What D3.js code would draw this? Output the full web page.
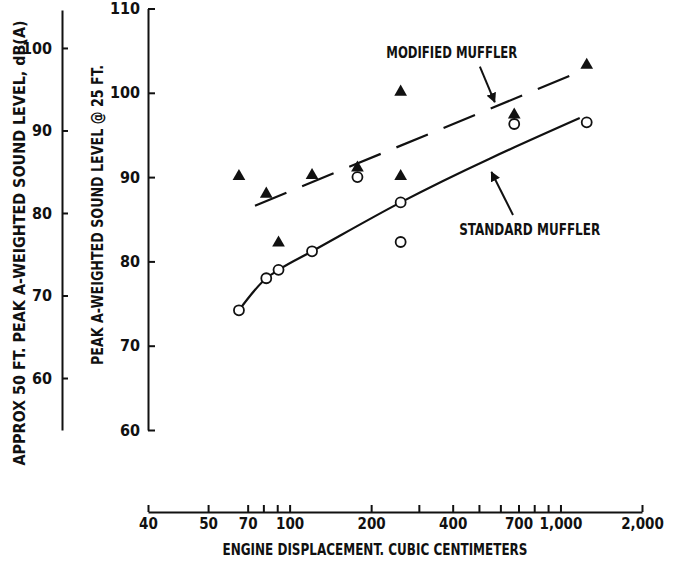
<!DOCTYPE html>
<html>
<head>
<meta charset="utf-8">
<script src="https://cdn.jsdelivr.net/npm/d3@7"></script>
<style>
  body { margin: 0; background: #fff; }
  text { font-family: "Liberation Sans Narrow", "DejaVu Sans Condensed", sans-serif; font-weight: bold; fill: #111; }
</style>
</head>
<body>
<div id="chart"></div>
<script>
// engine displacement (cc) of each tested machine
var displacement = [65, 82, 91, 121, 178, 257, 257, 675, 1250];
var modifiedLevel = [90.1, 88.0, 82.2, 90.2, 91.1, 100.1, 90.1, 97.4, 103.3];
var standardLevel = [74.2, 78.0, 79.0, 81.2, 90.0, 87.0, 82.3, 96.3, 96.5];

// hand drawn curves through the data
var modifiedFitX = [74.5, 1178];
var modifiedFitY = [86.6, 102.5];
var standardFitX = [65, 82, 91, 121, 257, 1178];
var standardFitY = [74.2, 78.0, 79.0, 81.2, 87.0, 97.0];

// axis ticks
var xTicks = [30, 50, 70, 80, 90, 100, 200, 300, 400, 500, 600, 700, 800, 900, 1000, 2000];
var xTickLabels = {30: "40", 50: "50", 70: "70", 100: "100", 200: "200", 400: "400", 700: "700", 1000: "1,000", 2000: "2,000"};
var yTicks = [60, 70, 80, 90, 100, 110];
var leftTicks = [60, 70, 80, 90, 100];

var svgWidth = 673, svgHeight = 565;

var svg = d3.select("#chart").append("svg")
    .attr("width", svgWidth)
    .attr("height", svgHeight);

var xScale = d3.scaleLog()
    .domain([30, 2000])
    .range([148, 642]);

var yScale = d3.scaleLinear()
    .domain([60, 110])
    .range([430, 8.5]);

// approx 50 ft scale, drawn on its own
var leftScale = d3.scaleLinear()
    .domain([53.7, 104.6])
    .range([430, 10]);

function styleAxis(g) {
    g.selectAll("path").attr("stroke", "#111").attr("stroke-width", 2);
    g.selectAll("line").attr("stroke", "#111").attr("stroke-width", 2);
    g.selectAll("text")
        .style("font-family", '"Liberation Sans Narrow", "DejaVu Sans Condensed", sans-serif')
        .style("font-weight", "bold")
        .attr("fill", "#111");
}

// x axis
svg.append("g")
    .attr("transform", "translate(0,512)")
    .call(d3.axisBottom(xScale)
        .tickValues(xTicks)
        .tickSize(-7)
        .tickSizeOuter(0)
        .tickPadding(6)
        .tickFormat(function(d) { return xTickLabels[d] || ""; }))
    .call(styleAxis)
    .selectAll("text").attr("font-size", 15);

svg.append("text")
    .attr("x", 375)
    .attr("y", 555)
    .attr("text-anchor", "middle")
    .attr("font-size", 15)
    .attr("textLength", 305)
    .attr("lengthAdjust", "spacingAndGlyphs")
    .text("ENGINE DISPLACEMENT. CUBIC CENTIMETERS");

// main y axis (25 ft)
svg.append("g")
    .attr("transform", "translate(148,0)")
    .call(d3.axisLeft(yScale)
        .tickValues(yTicks)
        .tickSize(-7)
        .tickSizeOuter(0)
        .tickPadding(8)
        .tickFormat(d3.format("d")))
    .call(styleAxis)
    .selectAll("text").attr("font-size", 16);

svg.append("text")
    .attr("transform", "translate(103,215) rotate(-90)")
    .attr("text-anchor", "middle")
    .attr("font-size", 15)
    .attr("textLength", 300)
    .attr("lengthAdjust", "spacingAndGlyphs")
    .text("PEAK A-WEIGHTED SOUND LEVEL @ 25 FT.");

// left y axis (50 ft)
svg.append("g")
    .attr("transform", "translate(62,0)")
    .call(d3.axisLeft(leftScale)
        .tickValues(leftTicks)
        .tickSize(-6)
        .tickSizeOuter(0)
        .tickPadding(10)
        .tickFormat(d3.format("d")))
    .call(styleAxis)
    .selectAll("text").attr("font-size", 16);

svg.append("text")
    .attr("transform", "translate(25,243) rotate(-90)")
    .attr("text-anchor", "middle")
    .attr("font-size", 15)
    .attr("textLength", 445)
    .attr("lengthAdjust", "spacingAndGlyphs")
    .text("APPROX 50 FT. PEAK A-WEIGHTED SOUND LEVEL, dB(A)");

// fitted lines
var line = d3.line()
    .x(function(d) { return xScale(d[0]); })
    .y(function(d) { return yScale(d[1]); });

svg.append("path")
    .datum(d3.zip(modifiedFitX, modifiedFitY))
    .attr("d", line)
    .attr("fill", "none")
    .attr("stroke", "#111")
    .attr("stroke-width", 2.2)
    .attr("stroke-dasharray", "34,17");

svg.append("path")
    .datum(d3.zip(standardFitX, standardFitY))
    .attr("d", line.curve(d3.curveMonotoneX))
    .attr("fill", "none")
    .attr("stroke", "#111")
    .attr("stroke-width", 2.2);

// modified muffler points
svg.selectAll(".tri")
    .data(d3.zip(displacement, modifiedLevel))
    .enter()
    .append("path")
    .attr("class", "tri")
    .attr("d", d3.symbol().type(d3.symbolTriangle).size(70))
    .attr("transform", function(d) {
        return "translate(" + xScale(d[0]) + "," + yScale(d[1]) + ")";
    })
    .attr("fill", "#111");

// standard muffler points
svg.selectAll(".circ")
    .data(d3.zip(displacement, standardLevel))
    .enter()
    .append("circle")
    .attr("class", "circ")
    .attr("cx", function(d) { return xScale(d[0]); })
    .attr("cy", function(d) { return yScale(d[1]); })
    .attr("r", 5)
    .attr("fill", "#fff")
    .attr("stroke", "#111")
    .attr("stroke-width", 1.8);

// labels with arrows
svg.append("defs").append("marker")
    .attr("id", "head")
    .attr("viewBox", "0 0 10 10")
    .attr("refX", 9)
    .attr("refY", 5)
    .attr("markerWidth", 5)
    .attr("markerHeight", 5)
    .attr("orient", "auto")
    .append("path")
    .attr("d", "M0,0L10,5L0,10Z")
    .attr("fill", "#111");

var notes = [
    {text: "MODIFIED MUFFLER", x: 397, y: 104.1, len: 131, from: [504, 103.1], to: [572, 98.9]},
    {text: "STANDARD MUFFLER", x: 770, y: 83.1, len: 141, from: [668, 85.5], to: [556, 90.6]}
];

notes.forEach(function(n) {
    svg.append("text")
        .attr("x", xScale(n.x))
        .attr("y", yScale(n.y))
        .attr("text-anchor", "middle")
        .attr("font-size", 15)
        .attr("textLength", n.len)
        .attr("lengthAdjust", "spacingAndGlyphs")
        .text(n.text);
    svg.append("line")
        .attr("x1", xScale(n.from[0]))
        .attr("y1", yScale(n.from[1]))
        .attr("x2", xScale(n.to[0]))
        .attr("y2", yScale(n.to[1]))
        .attr("stroke", "#111")
        .attr("stroke-width", 2)
        .attr("marker-end", "url(#head)");
});
</script>
</body>
</html>
